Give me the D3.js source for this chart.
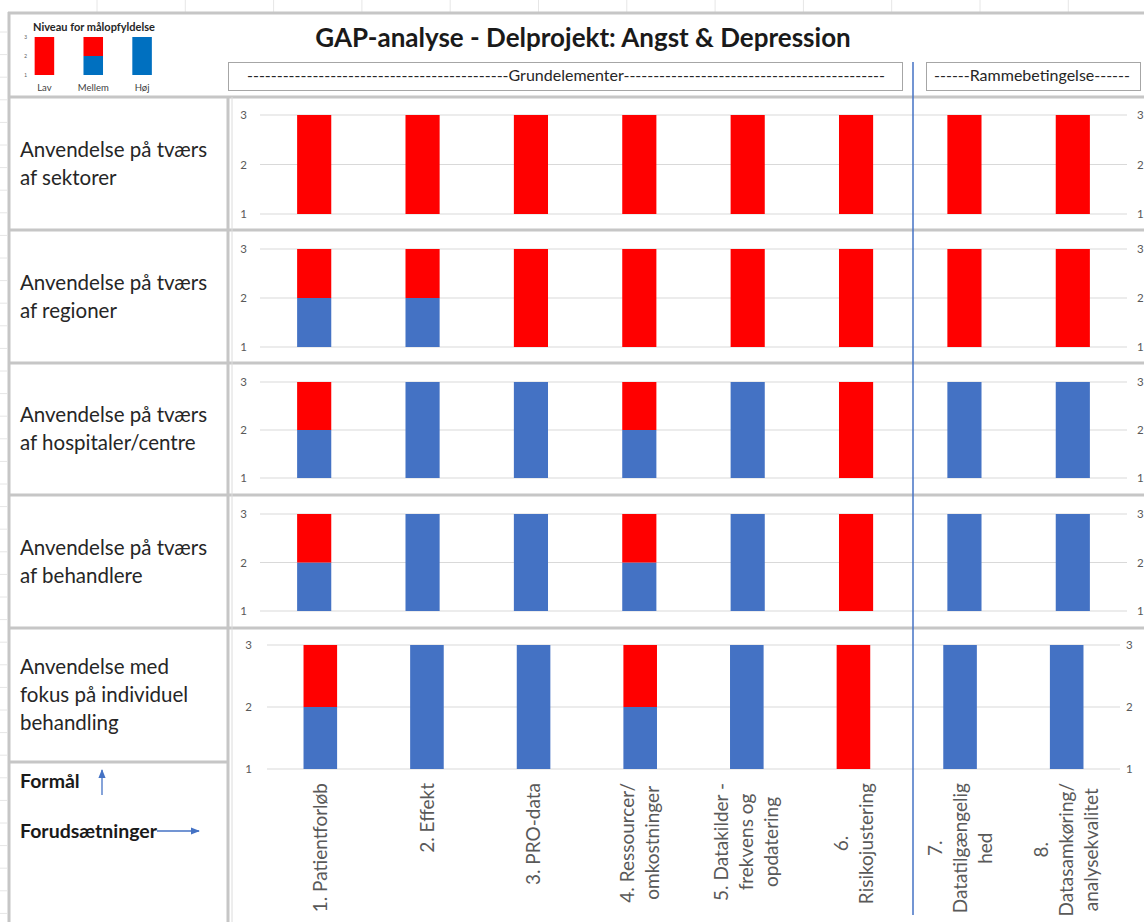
<!DOCTYPE html>
<html><head><meta charset="utf-8">
<script src="https://cdn.jsdelivr.net/npm/d3@7/dist/d3.min.js"></script>
<style>
body{margin:0;background:#fff}
svg{display:block;font-family:Lato,"Open Sans",sans-serif}
</style>
</head><body>
<svg id="c" width="1144" height="922"></svg>
<script>
// ---------------- DATA ----------------
const title = "GAP-analyse - Delprojekt: Angst & Depression";
const groupLabels = ["Grundelementer", "Rammebetingelse"];
const categories = [
  ["1. Patientforløb"],
  ["2. Effekt"],
  ["3. PRO-data"],
  ["4. Ressourcer/", "omkostninger"],
  ["5. Datakilder -", "frekvens og", "opdatering"],
  ["6.", "Risikojustering"],
  ["7.", "Datatilgængelig", "hed"],
  ["8.", "Datasamkøring/", "analysekvalitet"]
];
const rowLabels = [
  ["Anvendelse på tværs", "af sektorer"],
  ["Anvendelse på tværs", "af regioner"],
  ["Anvendelse på tværs", "af hospitaler/centre"],
  ["Anvendelse på tværs", "af behandlere"],
  ["Anvendelse med", "fokus på individuel", "behandling"]
];
// blue segment (stacked from level 1) and red segment on top, per row and category
const blueSeg = [
  [0, 0, 0, 0, 0, 0, 0, 0],
  [1, 1, 0, 0, 0, 0, 0, 0],
  [1, 2, 2, 1, 2, 0, 2, 2],
  [1, 2, 2, 1, 2, 0, 2, 2],
  [1, 2, 2, 1, 2, 0, 2, 2]
];
const redSeg = [
  [2, 2, 2, 2, 2, 2, 2, 2],
  [1, 1, 2, 2, 2, 2, 2, 2],
  [1, 0, 0, 1, 0, 2, 0, 0],
  [1, 0, 0, 1, 0, 2, 0, 0],
  [1, 0, 0, 1, 0, 2, 0, 0]
];
const yTicks = [1, 2, 3];
const legendTitle = "Niveau for målopfyldelse";
const legendCats = ["Lav", "Mellem", "Høj"];
const legendBlue = [0, 1, 2];
const legendRed = [2, 1, 0];
const footLabels = ["Formål", "Forudsætninger"];

// ---------------- LAYOUT ----------------
const RED = "#ff0000", BLUE = "#4472c4", LBLUE = "#0070c0";
const BORDER = "#c6c6c6", GRID = "#d9d9d9", TICK = "#595959";
const svg = d3.select("#c");
svg.append("rect").attr("width", 1144).attr("height", 922).attr("fill", "#fff");

const rowsGeom = [
  {top: 97,  bottom: 230, y3: 115, y1: 214, x0: 260, x1: 1127, lx: 247, rx: 1137},
  {top: 230, bottom: 363, y3: 249, y1: 347, x0: 260, x1: 1127, lx: 247, rx: 1137},
  {top: 363, bottom: 495, y3: 382, y1: 478, x0: 260, x1: 1127, lx: 247, rx: 1137},
  {top: 495, bottom: 628, y3: 514, y1: 611, x0: 260, x1: 1127, lx: 247, rx: 1137},
  {top: 628, bottom: 762, y3: 645, y1: 769, x0: 267, x1: 1120, lx: 252, rx: 1126}
];

// excel sheet guides
const colTicks = d3.range(97, 1144, 88.3);
svg.append("g").selectAll("line").data(colTicks).join("line")
  .attr("x1", d => d).attr("x2", d => d).attr("y1", 0).attr("y2", 12)
  .attr("stroke", "#e6e6e6").attr("stroke-width", 1);
const rowTicks = d3.range(32, 922, 22.6);
svg.append("g").selectAll("line").data(rowTicks).join("line")
  .attr("x1", 0).attr("x2", 7).attr("y1", d => d).attr("y2", d => d)
  .attr("stroke", "#e6e6e6").attr("stroke-width", 1);

// ---------------- ROWS ----------------
rowsGeom.forEach((g, ri) => {
  const x = d3.scaleBand().domain(d3.range(categories.length)).range([g.x0, g.x1])
    .paddingInner(0.685).paddingOuter(0.3425);
  const y = d3.scaleLinear().domain([1, 3]).range([g.y1, g.y3]);
  const gr = svg.append("g");
  gr.append("g").selectAll("line").data(yTicks).join("line")
    .attr("x1", g.x0).attr("x2", g.x1)
    .attr("y1", d => y(d)).attr("y2", d => y(d))
    .attr("stroke", GRID).attr("stroke-width", 1.2);
  const la = gr.append("g").attr("transform", `translate(${g.lx},0)`)
    .call(d3.axisLeft(y).tickValues(yTicks).tickSize(0).tickPadding(0).tickFormat(d3.format("d")));
  const ra = gr.append("g").attr("transform", `translate(${g.rx},0)`)
    .call(d3.axisRight(y).tickValues(yTicks).tickSize(0).tickPadding(0).tickFormat(d3.format("d")));
  [la, ra].forEach(a => {
    a.select(".domain").remove();
    a.selectAll("text").attr("fill", TICK).attr("font-size", 11.5).attr("font-family", "Lato, sans-serif");
  });
  const data = categories.map((c, i) => ({i, b: blueSeg[ri][i], r: redSeg[ri][i]}));
  gr.append("g").selectAll("rect").data(data.filter(d => d.b > 0)).join("rect")
    .attr("x", d => x(d.i)).attr("width", x.bandwidth())
    .attr("y", d => y(1 + d.b)).attr("height", d => y(1) - y(1 + d.b))
    .attr("fill", BLUE);
  gr.append("g").selectAll("rect").data(data.filter(d => d.r > 0)).join("rect")
    .attr("x", d => x(d.i)).attr("width", x.bandwidth())
    .attr("y", d => y(1 + d.b + d.r)).attr("height", d => y(1 + d.b) - y(1 + d.b + d.r))
    .attr("fill", RED);

  // row heading text
  const cy = (g.top + g.bottom) / 2;
  const lines = rowLabels[ri];
  const t = svg.append("text").attr("x", 20).attr("fill", "#262626").attr("font-size", 20.5);
  lines.forEach((ln, k) => {
    t.append("tspan").attr("x", 20).attr("y", cy + (k - (lines.length - 1) / 2) * 28 + 7).text(ln);
  });

  // category labels under last row
  if (ri === rowsGeom.length - 1) {
    const topY = 783;
    categories.forEach((lns, i) => {
      const cx = x(i) + x.bandwidth() / 2;
      const tg = svg.append("g");
      const tx = tg.append("text").attr("fill", TICK).attr("font-size", 19).attr("text-anchor", "middle");
      lns.forEach((ln, k) => {
        tx.append("tspan").attr("x", 0).attr("y", (k - (lns.length - 1) / 2) * 25).attr("dy", "0.35em").text(ln);
      });
      let maxLen = 0;
      tx.selectAll("tspan").each(function () { maxLen = Math.max(maxLen, this.getComputedTextLength()); });
      tg.attr("transform", `translate(${cx},${topY + maxLen / 2}) rotate(-90)`);
    });
  }
});

// ---------------- BORDERS ----------------
const hb = [
  {y: 13, x1: 8, x2: 1144},
  {y: 97, x1: 8, x2: 1144},
  {y: 230, x1: 8, x2: 1144},
  {y: 363, x1: 8, x2: 1144},
  {y: 495, x1: 8, x2: 1144},
  {y: 628, x1: 8, x2: 1144},
  {y: 762, x1: 8, x2: 228}
];
svg.append("g").selectAll("line").data(hb).join("line")
  .attr("x1", d => d.x1).attr("x2", d => d.x2).attr("y1", d => d.y).attr("y2", d => d.y)
  .attr("stroke", BORDER).attr("stroke-width", 3);
svg.append("line").attr("x1", 9).attr("x2", 9).attr("y1", 12).attr("y2", 922)
  .attr("stroke", BORDER).attr("stroke-width", 3);
svg.append("line").attr("x1", 228).attr("x2", 228).attr("y1", 96).attr("y2", 922)
  .attr("stroke", BORDER).attr("stroke-width", 3);
svg.append("line").attr("x1", 232).attr("x2", 232).attr("y1", 97).attr("y2", 922)
  .attr("stroke", "#dcdcdc").attr("stroke-width", 1);

// ---------------- TITLE & GROUP BOXES ----------------
svg.append("text").attr("x", 583).attr("y", 47).attr("text-anchor", "middle")
  .attr("font-size", 26).attr("font-weight", 700).attr("fill", "#1a1a1a").text(title);

function dashed(word, cx, cy, target, size) {
  const t = svg.append("text").attr("x", cx).attr("y", cy).attr("text-anchor", "middle")
    .attr("font-size", size).attr("fill", "#262626");
  let n = 1;
  while (n < 200) {
    const d = "-".repeat(n);
    t.text(d + word + d);
    if (t.node().getComputedTextLength() >= target) break;
    n++;
  }
}
svg.append("rect").attr("x", 228.5).attr("y", 62.5).attr("width", 674).attr("height", 28)
  .attr("fill", "#fff").attr("stroke", "#a6a6a6");
dashed(groupLabels[0], 566, 81, 634, 16);
svg.append("rect").attr("x", 926.5).attr("y", 62.5).attr("width", 214).attr("height", 28)
  .attr("fill", "#fff").attr("stroke", "#a6a6a6");
dashed(groupLabels[1], 1032, 81, 188, 16);

// vertical separator
svg.append("line").attr("x1", 913).attr("x2", 913).attr("y1", 62).attr("y2", 915)
  .attr("stroke", BLUE).attr("stroke-width", 1.5);

// ---------------- LEGEND ----------------
const lg = svg.append("g");
lg.append("text").attr("x", 33).attr("y", 31).attr("font-size", 11).attr("font-weight", 700)
  .attr("fill", "#262626").text(legendTitle);
const lx = d3.scaleBand().domain(legendCats).range([20, 166.5]).paddingInner(0.6).paddingOuter(0.3);
const ly = d3.scaleLinear().domain([1, 3]).range([75, 37]);
const ldata = legendCats.map((c, i) => ({c, b: legendBlue[i], r: legendRed[i]}));
lg.append("g").selectAll("rect").data(ldata.filter(d => d.b > 0)).join("rect")
  .attr("x", d => lx(d.c)).attr("width", lx.bandwidth())
  .attr("y", d => ly(1 + d.b)).attr("height", d => ly(1) - ly(1 + d.b)).attr("fill", LBLUE);
lg.append("g").selectAll("rect").data(ldata.filter(d => d.r > 0)).join("rect")
  .attr("x", d => lx(d.c)).attr("width", lx.bandwidth())
  .attr("y", d => ly(1 + d.b + d.r)).attr("height", d => ly(1 + d.b) - ly(1 + d.b + d.r)).attr("fill", RED);
const lax = lg.append("g").attr("transform", "translate(27,0)")
  .call(d3.axisLeft(ly).tickValues(yTicks).tickSize(0).tickPadding(0).tickFormat(d3.format("d")));
lax.select(".domain").remove();
lax.selectAll("text").attr("font-size", 5).attr("fill", TICK);
lg.append("g").selectAll("text").data(legendCats).join("text")
  .attr("x", d => lx(d) + lx.bandwidth() / 2).attr("y", 91).attr("text-anchor", "middle")
  .attr("font-size", 9.5).attr("fill", "#404040").text(d => d);

// ---------------- FOOT (Formål / Forudsætninger) ----------------
const defs = svg.append("defs");
defs.append("marker").attr("id", "ah").attr("viewBox", "0 0 10 10").attr("refX", 9).attr("refY", 5)
  .attr("markerWidth", 7).attr("markerHeight", 7).attr("orient", "auto-start-reverse")
  .append("path").attr("d", "M0,1 L10,5 L0,9 Z").attr("fill", BLUE);
svg.append("text").attr("x", 20).attr("y", 788).attr("font-size", 19.5).attr("font-weight", 700)
  .attr("fill", "#1a1a1a").text(footLabels[0]);
svg.append("line").attr("x1", 102).attr("x2", 102).attr("y1", 795).attr("y2", 770)
  .attr("stroke", BLUE).attr("stroke-width", 1.3).attr("marker-end", "url(#ah)");
const ft = svg.append("text").attr("x", 20).attr("y", 838).attr("font-size", 19.5).attr("font-weight", 700)
  .attr("fill", "#1a1a1a").text(footLabels[1]);
const fw = ft.node().getComputedTextLength();
svg.append("line").attr("x1", 20 + fw).attr("x2", 199).attr("y1", 831).attr("y2", 831)
  .attr("stroke", BLUE).attr("stroke-width", 1.3).attr("marker-end", "url(#ah)");
</script>
</body></html>
